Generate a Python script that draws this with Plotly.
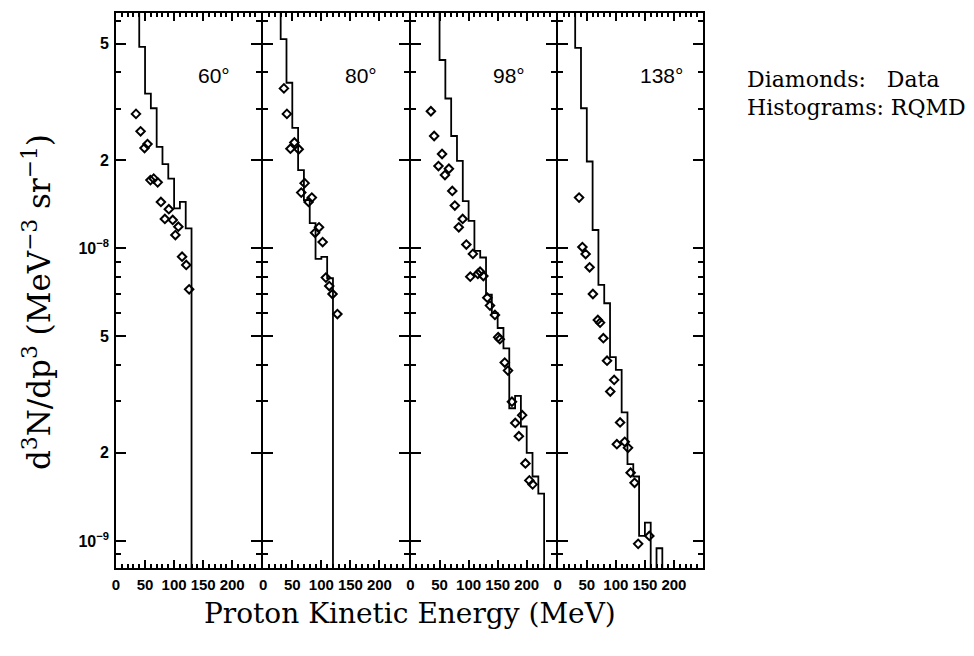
import math
import plotly.graph_objects as go

# ---- data -------------------------------------------------------------
angle_labels = ["60°", "80°", "98°", "138°"]

# RQMD histograms: first bin lower edge (MeV), 10 MeV bins, bin contents
# (None = empty bin)
bin_width = 10
hist_start = [40, 30, 50, 30]
hist_60 = [4.88e-8, 3.38e-8, 3.01e-8, 2.22e-8, 1.94e-8, 1.73e-8, 1.37e-8,
           1.44e-8, 1.17e-8]
hist_80 = [5.19e-8, 3.68e-8, 2.58e-8, 1.85e-8, 1.46e-8, 1.22e-8, 9.2e-9,
           9.35e-9, 7.9e-9]
hist_98 = [4.40e-8, 3.25e-8, 2.42e-8, 1.99e-8, 1.45e-8, 1.24e-8, 9.8e-9,
           9.3e-9, 6.95e-9, 6.0e-9, 5.34e-9, 4.55e-9, 2.84e-9, 3.13e-9,
           2.46e-9, 2.0e-9, 1.66e-9, 1.45e-9]
hist_138 = [4.84e-8, 3.01e-8, 1.98e-8, 1.155e-8, 7.5e-9, 6.49e-9, 4.25e-9,
            3.84e-9, 2.75e-9, 1.83e-9, 1.66e-9, 1.04e-9, 1.155e-9, None,
            9.44e-10]

# measured data points (kinetic energy in MeV, d3N/dp3)
data_60_x = [34.4, 42.3, 49.1, 54.2, 59.3, 64.9, 71.7, 77.3, 84.1, 90.9,
             97.6, 107.3, 102.2, 113.7, 120.9, 125.9]
data_60_y = [2.88e-8, 2.51e-8, 2.20e-8, 2.27e-8, 1.71e-8, 1.73e-8, 1.68e-8,
             1.44e-8, 1.26e-8, 1.36e-8, 1.25e-8, 1.185e-8, 1.11e-8, 9.36e-9,
             8.77e-9, 7.24e-9]
data_80_x = [35.6, 40.7, 53.6, 46.8, 61.0, 71.2, 65.4, 83.6, 78.0, 96.0,
             89.2, 102.2, 107.8, 113.6, 119.2, 127.6]
data_80_y = [3.52e-8, 2.88e-8, 2.30e-8, 2.19e-8, 2.18e-8, 1.67e-8, 1.55e-8,
             1.49e-8, 1.44e-8, 1.18e-8, 1.13e-8, 1.05e-8, 7.94e-9, 7.43e-9,
             6.98e-9, 5.96e-9]
data_98_x = [35.1, 40.7, 54.3, 48.1, 66.1, 59.3, 71.9, 76.3, 89.8, 83.1,
             96.1, 107.4, 102.9, 115.9, 119.8, 125.4, 132.2, 136.8, 145.3,
             150.9, 153.7, 162.2, 167.8, 174.6, 192.2, 180.3, 186.5, 197.8,
             204.6, 210.2]
data_98_y = [2.94e-8, 2.42e-8, 2.10e-8, 1.91e-8, 1.87e-8, 1.78e-8, 1.57e-8,
             1.40e-8, 1.26e-8, 1.18e-8, 1.03e-8, 9.57e-9, 8.0e-9, 8.17e-9,
             8.32e-9, 8.04e-9, 6.78e-9, 6.37e-9, 5.92e-9, 4.97e-9, 4.89e-9,
             4.07e-9, 3.82e-9, 2.99e-9, 2.69e-9, 2.53e-9, 2.28e-9, 1.84e-9,
             1.61e-9, 1.56e-9]
data_138_x = [36.7, 42.4, 48.0, 54.8, 60.5, 69.0, 72.9, 78.5, 84.8, 97.1,
              90.4, 107.3, 101.7, 115.3, 120.9, 125.4, 132.2, 138.4, 157.6]
data_138_y = [1.49e-8, 1.01e-8, 9.56e-9, 8.61e-9, 6.98e-9, 5.69e-9, 5.57e-9,
              4.93e-9, 4.13e-9, 3.55e-9, 3.24e-9, 2.54e-9, 2.14e-9, 2.18e-9,
              2.08e-9, 1.71e-9, 1.58e-9, 9.77e-10, 1.04e-9]

y_major = [1e-9, 2e-9, 5e-9, 1e-8, 2e-8, 5e-8]
y_major_text = ["10<sup>−9</sup>", "2", "5", "10<sup>−8</sup>", "2", "5"]
y_minor = [9e-10, 3e-9, 4e-9, 6e-9, 7e-9, 8e-9, 9e-9, 3e-8, 4e-8, 6e-8]
x_major = [0, 50, 100, 150, 200]
x_minor = [v for v in range(10, 250, 10) if v % 50 != 0]

Y_RANGE = [8.08e-10, 6.37e-8]
X_RANGE = [0, 250]

hists = [hist_60, hist_80, hist_98, hist_138]
points = [(data_60_x, data_60_y), (data_80_x, data_80_y),
          (data_98_x, data_98_y), (data_138_x, data_138_y)]

# ---- layout geometry --------------------------------------------------
W, H = 974, 656
PLOT_L, PLOT_R, PLOT_T, PLOT_B = 116, 703, 13, 568
FRAME_W = 2
gap = FRAME_W / (PLOT_R - PLOT_L)          # neighbouring panels share a line
panel_w = (1 - 3 * gap) / 4
domains = [[k * (panel_w + gap), k * (panel_w + gap) + panel_w]
           for k in range(4)]
log_range = [math.log10(Y_RANGE[0]), math.log10(Y_RANGE[1])]

fig = go.Figure()

ABOVE = Y_RANGE[1] * 10   # off-scale anchors so the steps run to the frame
BELOW = Y_RANGE[0] / 10

for i in range(4):
    sfx = "" if i == 0 else str(i + 1)
    start = hist_start[i]
    vals = hists[i]
    xs = [start] + [start + k * bin_width for k in range(len(vals))] \
        + [start + len(vals) * bin_width]
    ys = [ABOVE] + [BELOW if v is None else v for v in vals] + [BELOW]
    fig.add_trace(go.Scatter(x=xs, y=ys, mode="lines", line_shape="hv",
                             line=dict(color="black", width=1.8),
                             xaxis="x" + sfx, yaxis="y" + sfx,
                             showlegend=False, hoverinfo="skip"))
    px, py = points[i]
    fig.add_trace(go.Scatter(x=px, y=py, mode="markers",
                             marker=dict(symbol="diamond-open", size=6.5,
                                         color="black",
                                         line=dict(color="black", width=2)),
                             xaxis="x" + sfx, yaxis="y" + sfx,
                             showlegend=False))

# empty traces that attach the label-only axes
for i in range(4):
    sfx = "" if i == 0 else str(i + 1)
    fig.add_trace(go.Scatter(x=[], y=[], xaxis="x" + str(i + 5),
                             yaxis="y" + sfx, showlegend=False,
                             hoverinfo="skip"))
fig.add_trace(go.Scatter(x=[], y=[], xaxis="x", yaxis="y5",
                         showlegend=False, hoverinfo="skip"))

tick_font = dict(family="Liberation Sans", size=15, color="black",
                 weight="bold")

axes = {}
for i in range(4):
    sfx = "" if i == 0 else str(i + 1)
    # frame + tick marks
    axes["xaxis" + sfx] = dict(
        domain=domains[i], anchor="y" + sfx, range=X_RANGE,
        showgrid=False, zeroline=False, showline=True, linecolor="black",
        linewidth=FRAME_W, mirror="ticks", ticks="inside",
        tickmode="array", tickvals=x_major, ticklen=8, tickwidth=2,
        tickcolor="black", showticklabels=False,
        minor=dict(tickmode="array", tickvals=x_minor, ticks="inside",
                   ticklen=4, tickwidth=1.5, tickcolor="black"))
    axes["yaxis" + sfx] = dict(
        domain=[0, 1], anchor="x" + sfx, type="log", range=log_range,
        showgrid=False, zeroline=False, showline=True, linecolor="black",
        linewidth=FRAME_W, mirror="ticks", ticks="inside",
        tickmode="array", tickvals=y_major, ticklen=10, tickwidth=2,
        tickcolor="black", showticklabels=False,
        minor=dict(tickmode="array", tickvals=y_minor, ticks="inside",
                   ticklen=5, tickwidth=1.5, tickcolor="black"))
    # energy tick labels
    axes["xaxis" + str(i + 5)] = dict(
        overlaying="x" + sfx, anchor="y" + sfx, side="bottom",
        range=X_RANGE, showgrid=False, zeroline=False, showline=False,
        ticks="", tickmode="array", tickvals=x_major,
        ticktext=[str(v) for v in x_major], tickangle=0,
        tickfont=tick_font, ticklabelstandoff=6)

axes["yaxis5"] = dict(
    overlaying="y", anchor="x", side="left", type="log", range=log_range,
    showgrid=False, zeroline=False, showline=False, ticks="",
    tickmode="array", tickvals=y_major, ticktext=y_major_text,
    tickfont=dict(family="Liberation Sans", size=16, color="black",
                  weight="bold"),
    ticklabelstandoff=6)
fig.update_layout(**axes)

# angle labels inside each panel
label_y = math.log10(3.91e-8)
for i, lab in enumerate(angle_labels):
    sfx = "" if i == 0 else str(i + 1)
    fig.add_annotation(x=138, y=label_y, xref="x" + sfx, yref="y" + sfx,
                       text=lab, showarrow=False, xanchor="left",
                       yanchor="middle",
                       font=dict(family="Liberation Sans", size=21,
                                 color="black"))

serif = "DejaVu Serif"


def paper_x(px):
    return (px - PLOT_L) / (PLOT_R - PLOT_L)


def paper_y(py):
    return (PLOT_B - py) / (PLOT_B - PLOT_T)


fig.add_annotation(x=paper_x(410), y=paper_y(613), xref="paper",
                   yref="paper", showarrow=False, xanchor="center",
                   yanchor="middle", text="Proton Kinetic Energy (MeV)",
                   font=dict(family=serif, size=28, color="black"))
fig.add_annotation(x=paper_x(37), y=paper_y(302), xref="paper",
                   yref="paper", showarrow=False, xanchor="center",
                   yanchor="middle", textangle=-90,
                   text="d<sup>3</sup>N/dp<sup>3</sup> (MeV<sup>−3</sup> "
                        "sr<sup>−1</sup>)",
                   font=dict(family=serif, size=31, color="black"))
fig.add_annotation(x=paper_x(745), y=paper_y(79), xref="paper",
                   yref="paper", showarrow=False, xanchor="left",
                   yanchor="middle", text="Diamonds:&nbsp;&nbsp; Data",
                   font=dict(family=serif, size=22, color="black"))
fig.add_annotation(x=paper_x(745), y=paper_y(107), xref="paper",
                   yref="paper", showarrow=False, xanchor="left",
                   yanchor="middle", text="Histograms: RQMD",
                   font=dict(family=serif, size=22, color="black"))

fig.update_layout(width=W, height=H, autosize=False,
                  margin=dict(l=PLOT_L, r=W - PLOT_R, t=PLOT_T, b=H - PLOT_B,
                              pad=0),
                  paper_bgcolor="white", plot_bgcolor="white",
                  showlegend=False)

fig.write_html("out.html")
